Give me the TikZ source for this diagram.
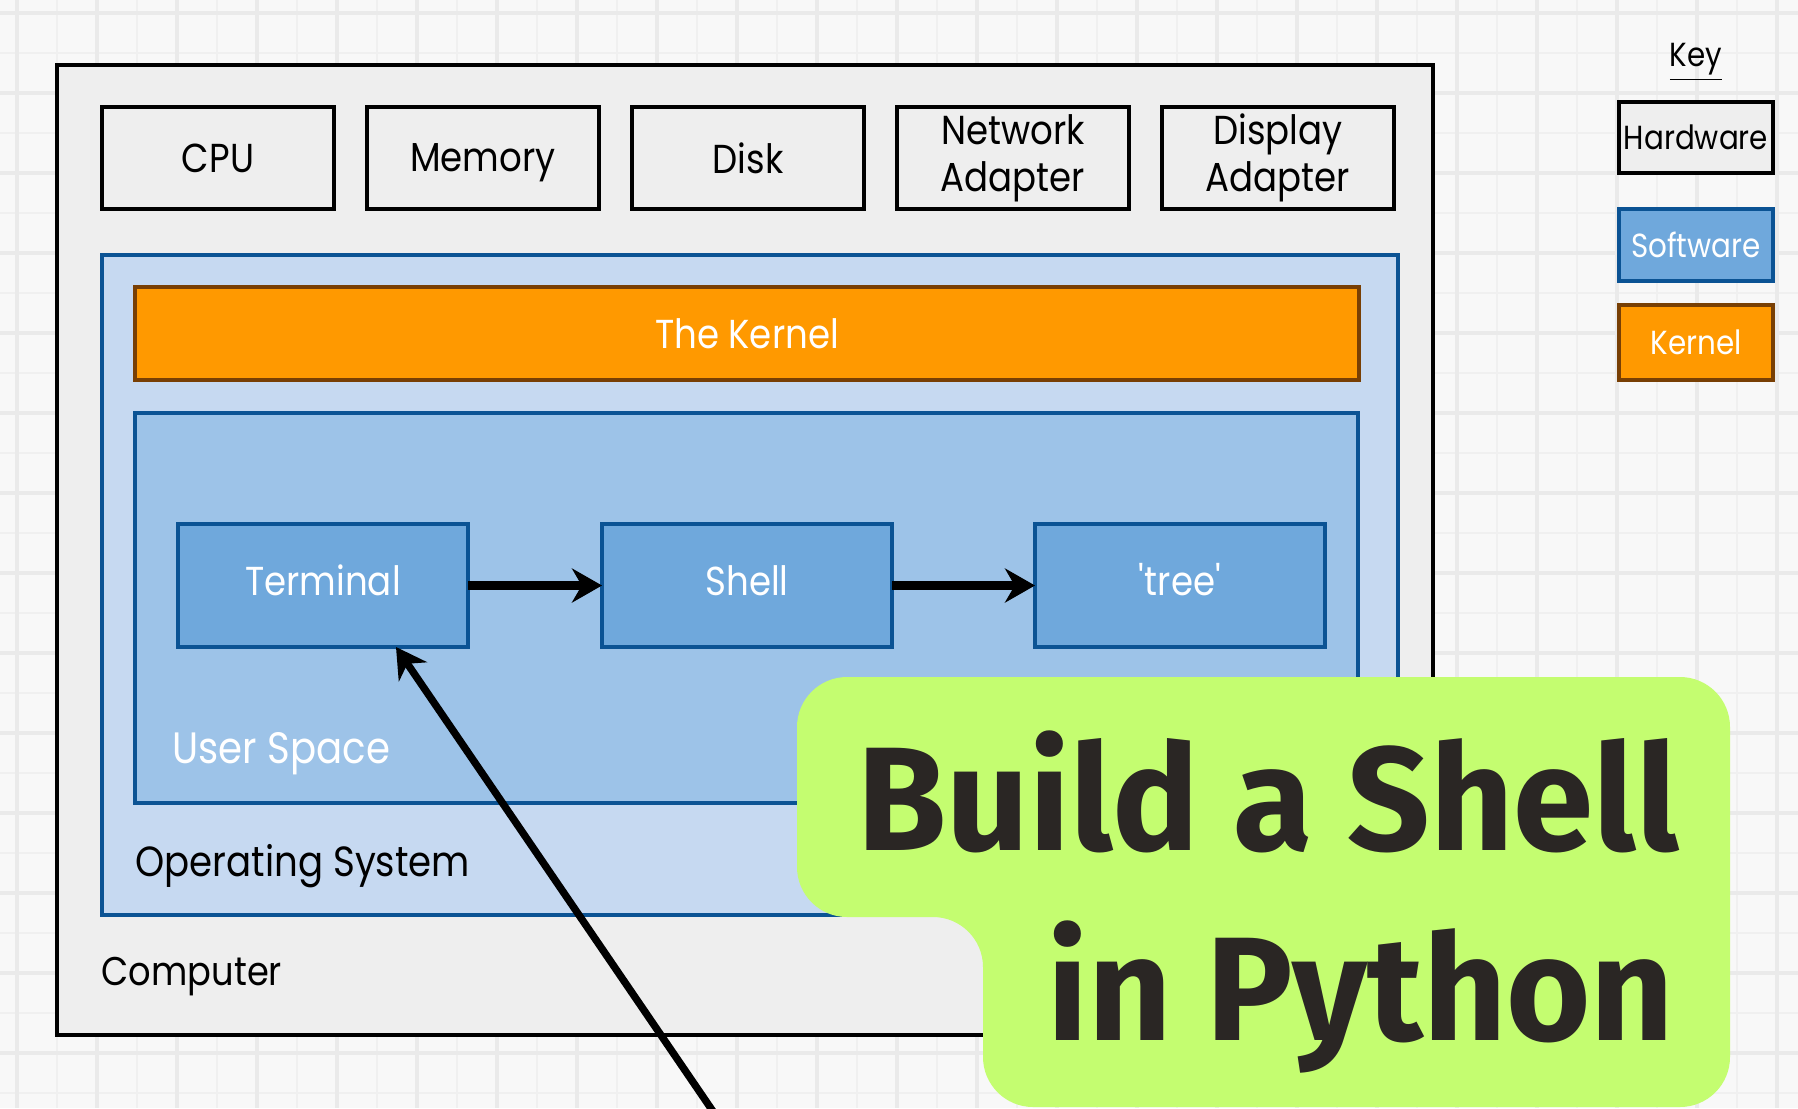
\documentclass[tikz,border=0pt]{standalone}
\usepackage{fontspec}
\setmainfont{Poppins}[FakeStretch=0.88]
\newfontfamily\titlefont{Fira Sans}[FakeStretch=0.98]
\usetikzlibrary{arrows.meta, positioning, calc}

\definecolor{bggray}{HTML}{F8F8F8}
\definecolor{gridminor}{HTML}{F0F0F0}
\definecolor{gridmajor}{HTML}{EAEAEA}
\definecolor{hwgray}{HTML}{EEEEEE}
\definecolor{osfill}{HTML}{C6D9F1}
\definecolor{usfill}{HTML}{9DC3E8}
\definecolor{swfill}{HTML}{6FA8DC}
\definecolor{swedge}{HTML}{0B5394}
\definecolor{kfill}{HTML}{FF9900}
\definecolor{kedge}{HTML}{783F04}
\definecolor{calloutgreen}{HTML}{C4FD70}
\definecolor{titleink}{HTML}{2A2624}

\begin{document}
\begin{tikzpicture}[
    node distance=0.33cm,
    container/.style={rectangle, draw, line width=1.4pt, anchor=north west, inner sep=0pt, outer sep=0pt},
    hwbox/.style={rectangle, draw=black, fill=hwgray, line width=1.3pt, outer sep=0pt, inner sep=0pt, minimum width=2.32cm, minimum height=1.02cm, align=center, font=\fontsize{11.5}{13.4}\selectfont},
    hwline/.style={hwbox, text depth=0pt},
    swbox/.style={rectangle, draw=swedge, fill=swfill, line width=1.2pt, outer sep=0pt, minimum width=2.9cm, minimum height=1.23cm, text=white, font=\fontsize{11.5}{13.6}\selectfont},
    keybox/.style={rectangle, line width=1.3pt, outer sep=0pt, minimum width=1.54cm, minimum height=0.71cm, inner sep=0pt, font=\fontsize{9.5}{11}\selectfont},
    boxlabel/.style={anchor=west, inner sep=0pt, font=\fontsize{12}{14}\selectfont},
    titletext/.style={anchor=base east, inner sep=0pt, text=titleink, font=\titlefont\bfseries\fontsize{42}{50}\selectfont},
    arrow/.style={-{Stealth[length=3mm, width=3.4mm]}, line width=2.6pt},
]

\useasboundingbox (0,0) rectangle (17.98,-11.08);
\fill[bggray] (0,0) rectangle (17.98,-11.08);
\foreach \x in {0.57,1.37,...,17.98} \draw[gridminor, line width=0.7pt] (\x,0) -- (\x,-11.08);
\foreach \y in {0.53,1.33,...,11.08} \draw[gridminor, line width=0.7pt] (0,-\y) -- (17.98,-\y);
\foreach \x in {0.17,0.97,...,17.98} \draw[gridmajor, line width=0.9pt] (\x,0) -- (\x,-11.08);
\foreach \y in {0.13,0.93,...,11.08} \draw[gridmajor, line width=0.9pt] (0,-\y) -- (17.98,-\y);

\node[container, draw=black, fill=hwgray, minimum width=13.76cm, minimum height=9.70cm] (computer) at (0.57,-0.65) {};

\node[hwline, anchor=north west] (cpu) at (1.02,-1.07) {CPU};
\node[hwline, right=of cpu] (memory) {Memory};
\node[hwline, right=of memory] (disk) {Disk};
\node[hwbox, right=of disk] (netadapter) {Network\\Adapter};
\node[hwbox, right=of netadapter] (dispadapter) {Display\\Adapter};

\node[container, draw=swedge, fill=osfill, minimum width=12.96cm, minimum height=6.60cm] (os) at (1.02,-2.55) {};
\node[container, draw=kedge, fill=kfill, minimum width=12.24cm, minimum height=0.93cm, text=white, font=\fontsize{11.5}{13.6}\selectfont] (kernel) at (1.35,-2.87) {The Kernel};
\node[container, draw=swedge, fill=usfill, minimum width=12.23cm, minimum height=3.90cm] (userspace) at (1.35,-4.13) {};

\node[swbox, anchor=north west] (terminal) at (1.78,-5.24) {Terminal\strut};
\node[swbox, right=1.34cm of terminal] (shell) {Shell\strut};
\node[swbox, right=1.43cm of shell] (tree) {\textquotesingle tree\textquotesingle\strut};

\draw[arrow] (terminal.east) -- (shell.west);
\draw[arrow] (shell.east) -- (tree.west);

\node[boxlabel, text=white, font=\fontsize{12.5}{14}\selectfont] (uslabel) at (1.72,-7.54) {User Space};
\node[boxlabel] (oslabel) at (1.35,-8.66) {Operating System};
\node[boxlabel, font=\fontsize{11.4}{14}\selectfont] (complabel) at (1.01,-9.77) {Computer};

\coordinate (pointer) at (7.38,-11.48);
\draw[arrow, line width=2.1pt] (pointer) -- ([xshift=0.73cm]terminal.south);

\node[font=\fontsize{9.5}{11}\selectfont, inner sep=0pt, anchor=base] (keytitle) at (16.96,-0.66) {\underline{Key}};
\node[keybox, draw=black, fill=hwgray, anchor=north] (keyhw) at (16.96,-1.02) {Hardware};
\node[keybox, draw=swedge, fill=swfill, text=white, minimum height=0.72cm, below=0.36cm of keyhw] (keysw) {Software};
\node[keybox, draw=kedge, fill=kfill, text=white, minimum height=0.75cm, below=0.24cm of keysw] (keyk) {Kernel};

\fill[calloutgreen, rounded corners=0.5cm] (7.97,-6.77) -- (17.30,-6.77) -- (17.30,-11.07) -- (9.83,-11.07) -- (9.83,-9.17) -- (7.97,-9.17) -- cycle;
\node[titletext] (title1) at (16.80,-8.50) {Build a Shell};
\node[titletext] (title2) at (16.75,-10.40) {in Python};

\end{tikzpicture}
\end{document}
